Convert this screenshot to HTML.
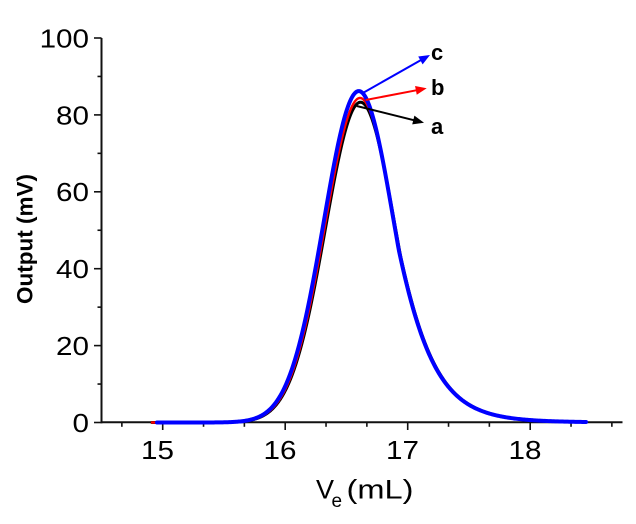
<!DOCTYPE html>
<html>
<head>
<meta charset="utf-8">
<style>
html,body{margin:0;padding:0;background:#fff;}
svg{display:block;}
text{font-family:"Liberation Sans",Arial,sans-serif;fill:#000;}
</style>
</head>
<body>
<svg id="s" width="636" height="524" viewBox="0 0 636 524" xmlns="http://www.w3.org/2000/svg">
<rect width="636" height="524" fill="#fff"/>
<g id="axes" stroke="#111" stroke-width="2" fill="none">
  <line x1="101.5" y1="38" x2="101.5" y2="423.3"/>
  <line x1="100.5" y1="422.3" x2="622.5" y2="422.3"/>
</g>
<g id="ticks" stroke="#111" stroke-width="1.6"></g>
<g id="curves" fill="none" stroke-linejoin="round" stroke-linecap="round"></g>
<g id="arrows"></g>
<g font-size="26">
  <text transform="translate(89,47.4) scale(1.14,1)" text-anchor="end">100</text>
  <text transform="translate(89,124.3) scale(1.14,1)" text-anchor="end">80</text>
  <text transform="translate(89,201.2) scale(1.14,1)" text-anchor="end">60</text>
  <text transform="translate(89,278.1) scale(1.14,1)" text-anchor="end">40</text>
  <text transform="translate(89,355) scale(1.14,1)" text-anchor="end">20</text>
  <text transform="translate(89,431.9) scale(1.14,1)" text-anchor="end">0</text>
  <text transform="translate(157.5,459) scale(1.14,1)" text-anchor="middle">15</text>
  <text transform="translate(280,459) scale(1.14,1)" text-anchor="middle">16</text>
  <text transform="translate(402.5,459) scale(1.14,1)" text-anchor="middle">17</text>
  <text transform="translate(525,459) scale(1.14,1)" text-anchor="middle">18</text>
</g>
<text transform="translate(32.5,239) rotate(-90)" text-anchor="middle" font-size="22.5" font-weight="bold">Output (mV)</text>
<text x="316" y="498.3" font-size="27">V</text>
<text x="331.5" y="507" font-size="19">e</text>
<text x="346.5" y="498.3" font-size="27" textLength="67" lengthAdjust="spacingAndGlyphs">(mL)</text>
<g font-size="22" font-weight="bold">
  <text x="431" y="60">c</text>
  <text x="431" y="95">b</text>
  <text x="431" y="134">a</text>
</g>
</svg>
<script>
(function(){
  var NS="http://www.w3.org/2000/svg";
  function X(v){return 162.7+(v-15)*122.5;}
  function Y(m){return 422.5-m*3.845;}
  var tk=document.getElementById("ticks");
  function ln(g,x1,y1,x2,y2,col,w){var l=document.createElementNS(NS,"line");l.setAttribute("x1",x1);l.setAttribute("y1",y1);l.setAttribute("x2",x2);l.setAttribute("y2",y2);if(col){l.setAttribute("stroke",col);}if(w){l.setAttribute("stroke-width",w);}g.appendChild(l);}
  for(var m=0;m<=100;m+=10){var y=Y(m);if(m%20===0){ln(tk,94,y,101.5,y);}else{ln(tk,97.5,y,101.5,y);}}
  var xs=[14+2/3,15,15+1/3,15+2/3,16,16+1/3,16+2/3,17,17+1/3,17+2/3,18,18+1/3,18+2/3];
  xs.forEach(function(v){var x=X(v);var major=Math.abs(v-Math.round(v))<1e-6;ln(tk,x,422.3,x,major?430:426.8);});
  var cg=document.getElementById("curves");
  function curve(c,A,x0,x1,col,w){
    var d="";
    for(var x=x0;x<=x1;x+=1){
      var dd=x-c;var s=dd<0?35:35+0.15*Math.max(0,dd-40);
      var v=A*Math.exp(-dd*dd/(2*s*s));
      var y=Y(v);
      d+=(x===x0?"M":"L")+x.toFixed(1)+","+y.toFixed(2);
    }
    var p=document.createElementNS(NS,"path");p.setAttribute("d",d);p.setAttribute("stroke",col);p.setAttribute("stroke-width",w);cg.appendChild(p);
  }
  curve(360.5,83.3,152,586,"#000",3);
  curve(360,84.4,152,586,"#ff0000",2.4);
  curve(358.8,86.2,157,586,"#0000ff",4);
  var ag=document.getElementById("arrows");
  function arrow(x1,y1,x2,y2,col){
    var dx=x2-x1,dy=y2-y1,L=Math.sqrt(dx*dx+dy*dy),ux=dx/L,uy=dy/L;
    var hl=11,hw=4.5;
    var bx=x2-hl*ux,by=y2-hl*uy;
    ln(ag,x1,y1,bx+ux*1,by+uy*1,col,2);
    var p=document.createElementNS(NS,"polygon");
    p.setAttribute("points",x2+","+y2+" "+(bx-uy*hw)+","+(by+ux*hw)+" "+(bx+uy*hw)+","+(by-ux*hw));
    p.setAttribute("fill",col);ag.appendChild(p);
  }
  arrow(363.3,92.7,430,55,"#0000ff");
  arrow(365.7,100,426.7,88.3,"#ff0000");
  arrow(356.7,106,424,122.7,"#000");
})();
</script>
</body>
</html>
